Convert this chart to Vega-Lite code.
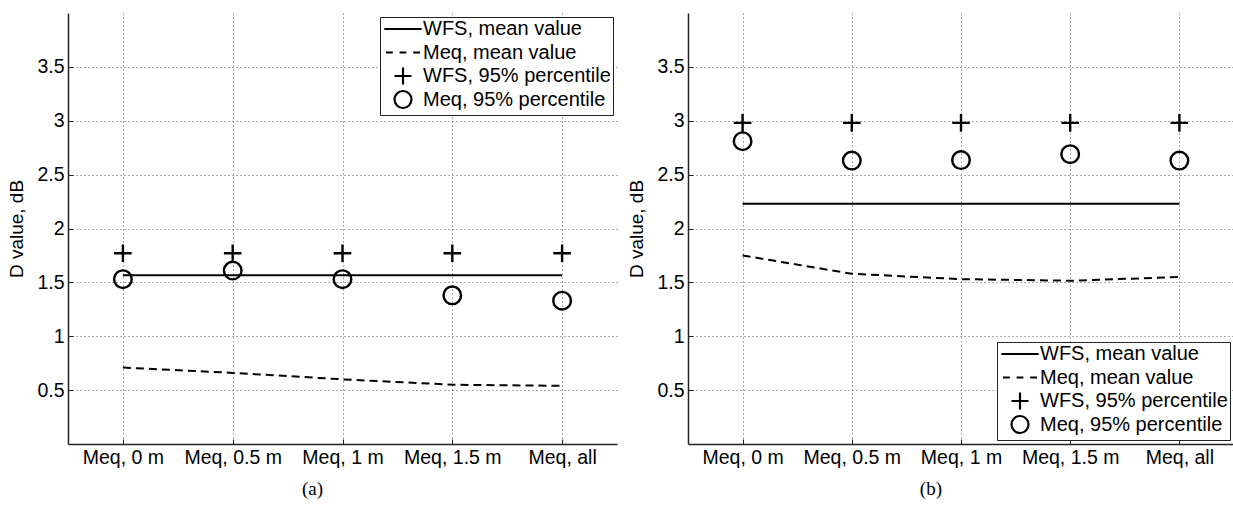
{
  "$schema": "https://vega.github.io/schema/vega-lite/v6.json",
  "padding": {"left": 7, "top": 13, "right": 1, "bottom": 0},
  "background": "white",
  "datasets": {
    "d": [
      {"panel": "a", "cat": "Meq, 0 m", "series": "WFS, mean value", "value": 1.565},
      {"panel": "a", "cat": "Meq, 0.5 m", "series": "WFS, mean value", "value": 1.565},
      {"panel": "a", "cat": "Meq, 1 m", "series": "WFS, mean value", "value": 1.565},
      {"panel": "a", "cat": "Meq, 1.5 m", "series": "WFS, mean value", "value": 1.565},
      {"panel": "a", "cat": "Meq, all", "series": "WFS, mean value", "value": 1.565},
      {"panel": "a", "cat": "Meq, 0 m", "series": "Meq, mean value", "value": 0.71},
      {"panel": "a", "cat": "Meq, 0.5 m", "series": "Meq, mean value", "value": 0.66},
      {"panel": "a", "cat": "Meq, 1 m", "series": "Meq, mean value", "value": 0.6},
      {"panel": "a", "cat": "Meq, 1.5 m", "series": "Meq, mean value", "value": 0.55},
      {"panel": "a", "cat": "Meq, all", "series": "Meq, mean value", "value": 0.54},
      {"panel": "a", "cat": "Meq, 0 m", "series": "WFS, 95% percentile", "value": 1.77},
      {"panel": "a", "cat": "Meq, 0.5 m", "series": "WFS, 95% percentile", "value": 1.77},
      {"panel": "a", "cat": "Meq, 1 m", "series": "WFS, 95% percentile", "value": 1.77},
      {"panel": "a", "cat": "Meq, 1.5 m", "series": "WFS, 95% percentile", "value": 1.77},
      {"panel": "a", "cat": "Meq, all", "series": "WFS, 95% percentile", "value": 1.77},
      {"panel": "a", "cat": "Meq, 0 m", "series": "Meq, 95% percentile", "value": 1.53},
      {"panel": "a", "cat": "Meq, 0.5 m", "series": "Meq, 95% percentile", "value": 1.61},
      {"panel": "a", "cat": "Meq, 1 m", "series": "Meq, 95% percentile", "value": 1.53},
      {"panel": "a", "cat": "Meq, 1.5 m", "series": "Meq, 95% percentile", "value": 1.38},
      {"panel": "a", "cat": "Meq, all", "series": "Meq, 95% percentile", "value": 1.33},
      {"panel": "b", "cat": "Meq, 0 m", "series": "WFS, mean value", "value": 2.23},
      {"panel": "b", "cat": "Meq, 0.5 m", "series": "WFS, mean value", "value": 2.23},
      {"panel": "b", "cat": "Meq, 1 m", "series": "WFS, mean value", "value": 2.23},
      {"panel": "b", "cat": "Meq, 1.5 m", "series": "WFS, mean value", "value": 2.23},
      {"panel": "b", "cat": "Meq, all", "series": "WFS, mean value", "value": 2.23},
      {"panel": "b", "cat": "Meq, 0 m", "series": "Meq, mean value", "value": 1.75},
      {"panel": "b", "cat": "Meq, 0.5 m", "series": "Meq, mean value", "value": 1.58},
      {"panel": "b", "cat": "Meq, 1 m", "series": "Meq, mean value", "value": 1.53},
      {"panel": "b", "cat": "Meq, 1.5 m", "series": "Meq, mean value", "value": 1.515},
      {"panel": "b", "cat": "Meq, all", "series": "Meq, mean value", "value": 1.55},
      {"panel": "b", "cat": "Meq, 0 m", "series": "WFS, 95% percentile", "value": 2.98},
      {"panel": "b", "cat": "Meq, 0.5 m", "series": "WFS, 95% percentile", "value": 2.98},
      {"panel": "b", "cat": "Meq, 1 m", "series": "WFS, 95% percentile", "value": 2.98},
      {"panel": "b", "cat": "Meq, 1.5 m", "series": "WFS, 95% percentile", "value": 2.98},
      {"panel": "b", "cat": "Meq, all", "series": "WFS, 95% percentile", "value": 2.98},
      {"panel": "b", "cat": "Meq, 0 m", "series": "Meq, 95% percentile", "value": 2.81},
      {"panel": "b", "cat": "Meq, 0.5 m", "series": "Meq, 95% percentile", "value": 2.63},
      {"panel": "b", "cat": "Meq, 1 m", "series": "Meq, 95% percentile", "value": 2.635},
      {"panel": "b", "cat": "Meq, 1.5 m", "series": "Meq, 95% percentile", "value": 2.69},
      {"panel": "b", "cat": "Meq, all", "series": "Meq, 95% percentile", "value": 2.63}
    ]
  },
  "spacing": 10,
  "resolve": {"scale": {"shape": "independent", "strokeDash": "independent", "x": "independent", "y": "independent"}, "legend": {"shape": "independent"}},
  "hconcat": [
    {
      "width": 549,
      "height": 431,
      "title": {"text": "(a)", "orient": "bottom", "frame": "bounds", "anchor": "middle", "font": "Liberation Serif", "fontSize": 19, "fontWeight": "normal", "offset": 13},
      "data": {"name": "d"},
      "transform": [{"filter": "datum.panel == 'a'"}],
      "encoding": {
        "x": {"field": "cat", "type": "nominal", "sort": ["Meq, 0 m", "Meq, 0.5 m", "Meq, 1 m", "Meq, 1.5 m", "Meq, all"], "scale": {"type": "point", "padding": 0.5}, "axis": {"title": null, "labelAngle": 0}},
        "y": {"field": "value", "type": "quantitative", "scale": {"domain": [0, 4], "nice": false, "zero": false}, "axis": {"title": "D value, dB", "values": [0.5, 1, 1.5, 2, 2.5, 3, 3.5], "format": "~g"}}
      },
      "layer": [
        {
          "transform": [{"filter": "datum.series == 'WFS, mean value' || datum.series == 'Meq, mean value'"}],
          "mark": {"type": "line", "color": "black", "strokeWidth": 2},
          "encoding": {
            "detail": {"field": "series"},
            "strokeDash": {"field": "series", "type": "nominal", "scale": {"domain": ["WFS, mean value", "Meq, mean value"], "range": [[1, 0], [8, 5]]}, "legend": null}
          }
        },
        {
          "transform": [{"filter": "datum.series == 'WFS, 95% percentile' || datum.series == 'Meq, 95% percentile'"}],
          "mark": {"type": "point", "filled": false, "color": "black", "strokeWidth": 2.4, "size": 310, "opacity": 1},
          "encoding": {
            "shape": {"field": "series", "type": "nominal",
              "scale": {"domain": ["WFS, mean value", "Meq, mean value", "WFS, 95% percentile", "Meq, 95% percentile"], "range": ["M0,-1M-2.2,0L2.2,0M0,1", "M0,-1M-2.0,0L-1.2,0M-0.4,0L0.4,0M1.2,0L2.0,0M0,1", "M-1,0L1,0M0,-1L0,1", "M-1,0A1,1,0,1,0,1,0A1,1,0,1,0,-1,0Z"]},
              "legend": {"title": null, "orient": "top-right", "offset": 4}}
          }
        }
      ]
    },
    {
      "width": 546,
      "height": 431,
      "title": {"text": "(b)", "orient": "bottom", "frame": "bounds", "anchor": "middle", "font": "Liberation Serif", "fontSize": 19, "fontWeight": "normal", "offset": 13},
      "data": {"name": "d"},
      "transform": [{"filter": "datum.panel == 'b'"}],
      "encoding": {
        "x": {"field": "cat", "type": "nominal", "sort": ["Meq, 0 m", "Meq, 0.5 m", "Meq, 1 m", "Meq, 1.5 m", "Meq, all"], "scale": {"type": "point", "padding": 0.5}, "axis": {"title": null, "labelAngle": 0}},
        "y": {"field": "value", "type": "quantitative", "scale": {"domain": [0, 4], "nice": false, "zero": false}, "axis": {"title": "D value, dB", "values": [0.5, 1, 1.5, 2, 2.5, 3, 3.5], "format": "~g"}}
      },
      "layer": [
        {
          "transform": [{"filter": "datum.series == 'WFS, mean value' || datum.series == 'Meq, mean value'"}],
          "mark": {"type": "line", "color": "black", "strokeWidth": 2},
          "encoding": {
            "detail": {"field": "series"},
            "strokeDash": {"field": "series", "type": "nominal", "scale": {"domain": ["WFS, mean value", "Meq, mean value"], "range": [[1, 0], [8, 5]]}, "legend": null}
          }
        },
        {
          "transform": [{"filter": "datum.series == 'WFS, 95% percentile' || datum.series == 'Meq, 95% percentile'"}],
          "mark": {"type": "point", "filled": false, "color": "black", "strokeWidth": 2.4, "size": 310, "opacity": 1},
          "encoding": {
            "shape": {"field": "series", "type": "nominal",
              "scale": {"domain": ["WFS, mean value", "Meq, mean value", "WFS, 95% percentile", "Meq, 95% percentile"], "range": ["M0,-1M-2.2,0L2.2,0M0,1", "M0,-1M-2.0,0L-1.2,0M-0.4,0L0.4,0M1.2,0L2.0,0M0,1", "M-1,0L1,0M0,-1L0,1", "M-1,0A1,1,0,1,0,1,0A1,1,0,1,0,-1,0Z"]},
              "legend": {"title": null, "orient": "bottom-right", "offset": 4}}
          }
        }
      ]
    }
  ],
  "config": {
    "font": "Liberation Sans",
    "view": {"stroke": null},
    "axis": {
      "labelFont": "Liberation Sans", "labelFontSize": 19.5, "labelColor": "black",
      "titleFont": "Liberation Sans", "titleFontSize": 19, "titleFontWeight": "normal", "titleColor": "black",
      "domainColor": "#222", "domainWidth": 1.5,
      "tickColor": "#222", "tickSize": -5, "tickWidth": 1, "labelPadding": 9,
      "grid": true, "gridColor": "#555", "gridDash": [1, 3], "gridWidth": 1
    },
    "axisY": {"titlePadding": 10},
    "legend": {
      "labelFont": "Liberation Sans", "labelFontSize": 20, "labelColor": "black", "labelLimit": 400,
      "symbolSize": 289, "symbolStrokeColor": "black", "symbolFillColor": "transparent", "symbolStrokeWidth": 2.2,
      "symbolOffset": 11, "labelOffset": 10, "rowPadding": -2.5,
      "padding": 2, "strokeColor": "#222", "fillColor": "white", "cornerRadius": 0
    }
  }
}
